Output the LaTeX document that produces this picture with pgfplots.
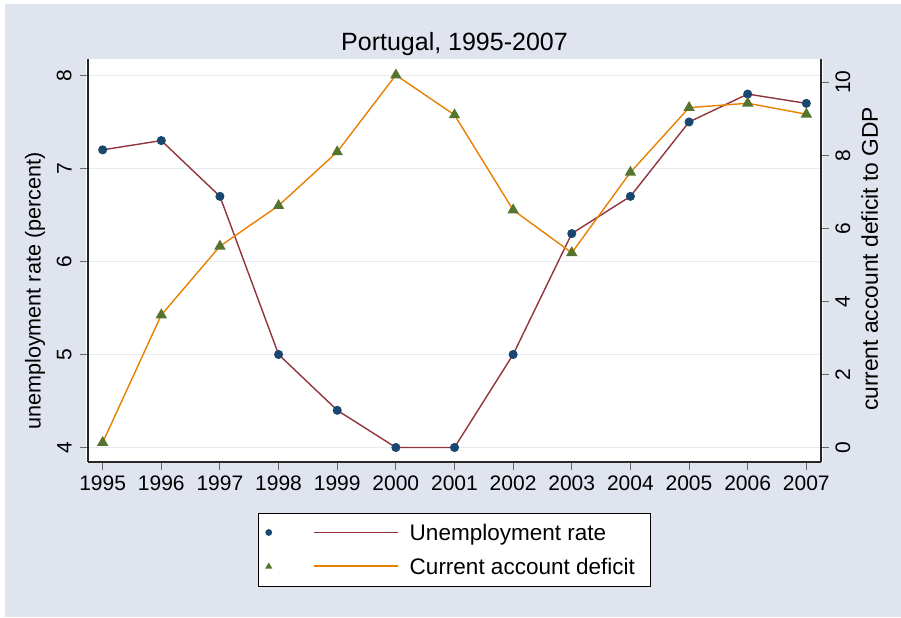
\documentclass[border=0pt]{standalone}
\usepackage{fontspec}
\setmainfont{Liberation Sans}
\usepackage{pgfplots}
\pgfplotsset{compat=1.18}
\definecolor{bgc}{RGB}{223,228,239}
\definecolor{gridc}{RGB}{230,234,243}
\definecolor{navyc}{RGB}{26,71,111}
\definecolor{maroonc}{RGB}{144,53,59}
\definecolor{greenc}{RGB}{85,117,47}
\definecolor{orangec}{RGB}{232,128,0}

\pgfplotstableread{
year unemp
1995 7.2
1996 7.3
1997 6.7
1998 5.0
1999 4.4
2000 4.0
2001 4.0
2002 5.0
2003 6.3
2004 6.7
2005 7.5
2006 7.8
2007 7.7
}\unemptable

\pgfplotstableread{
year ca
1995 0.14
1996 3.63
1997 5.51
1998 6.62
1999 8.09
2000 10.19
2001 9.10
2002 6.50
2003 5.33
2004 7.53
2005 9.30
2006 9.42
2007 9.12
}\catable

\pgfplotsset{
  common/.style={
    at={(44pt,77.5pt)}, anchor=south west,
    width=366.5pt, height=201.5pt, scale only axis,
    xmin=1994.75, xmax=2007.25,
    tick align=outside,
    major tick length=4pt,
    tick style={black!60, line width=0.5pt},
    axis line style={black!85, line width=0.6pt},
    /pgf/number format/assume math mode=true,
    tick label style={font=\fontsize{10.5}{12}\selectfont},
    label style={font=\fontsize{10.8}{13}\selectfont},
  }
}

\begin{document}
\begin{tikzpicture}
\path[use as bounding box] (0,0) rectangle (450.5pt,308.5pt);
\fill[white] (0,0) rectangle (450.5pt,308.5pt);
\fill[bgc] (2.5pt,0) rectangle (450.5pt,306.5pt);
\fill[white] (43pt,77pt) rectangle (411.5pt,279pt);

\begin{axis}[common,
  ymin=3.844, ymax=8.177,
  axis x line*=bottom, axis y line*=left,
  xtick={1995,...,2007},
  xticklabel style={/pgf/number format/1000 sep=, inner sep=0pt, anchor=north},
  xticklabel shift=2.5pt,
  ytick={4,5,6,7,8},
  yticklabel style={rotate=90, anchor=south, inner sep=0pt},
  yticklabel shift=4pt,
  ymajorgrids,
  grid style={gridc, line width=0.7pt},
  ylabel={unemployment rate (percent)},
  ylabel style={at={(axis description cs:-0.0645,0.424)}, anchor=base},
  title={Portugal, 1995-2007},
  title style={at={(axis description cs:0.5,1)}, anchor=base, yshift=-2pt, font=\fontsize{12.5}{14}\selectfont},
]
\addplot[maroonc, line width=0.7pt, mark=*, mark size=1.9pt,
  mark options={fill=navyc, draw=navyc}] table[x=year, y=unemp] {\unemptable};
\end{axis}

\begin{axis}[common,
  ymin=-0.391, ymax=10.63,
  axis x line=none, axis y line*=right,
  ytick={0,2,4,6,8,10},
  yticklabel style={rotate=90, anchor=north, inner sep=0pt},
  yticklabel shift=3pt,
  ylabel={current account deficit to GDP},
  ylabel style={at={(axis description cs:1.0775,0.504)}, anchor=base, font=\fontsize{11.4}{13}\selectfont},
  legend style={at={(0.5,0)}, anchor=north, yshift=-25.5pt,
    draw=black, line width=0.5pt, fill=white,
    inner xsep=3.5pt, inner ysep=4.5pt, row sep=6.25pt,
    font=\fontsize{11.25}{13}\selectfont,
    nodes={inner sep=0pt, anchor=base west}},
  legend cell align=left,
]
\addlegendimage{legend image code/.code={
  \path[draw=none, fill=none] (-1pt,-1pt) rectangle (70.5pt,9pt);
  \path[fill=navyc, draw=none] (0pt,4pt) circle (1.7pt);
  \path[draw=maroonc, line width=0.8pt, fill=none] (22.5pt,4pt) -- (64.5pt,4pt);}}
\addlegendentry{Unemployment rate}
\addlegendimage{legend image code/.code={
  \path[draw=none, fill=none] (-1pt,-1pt) rectangle (70.5pt,9pt);
  \path[fill=greenc, draw=none] (-1.8pt,2.7pt) -- (1.8pt,2.7pt) -- (0pt,5.8pt) -- cycle;
  \path[draw=orangec, line width=0.8pt, fill=none] (22.5pt,4pt) -- (64.5pt,4pt);}}
\addlegendentry{Current account deficit\hspace*{4.5pt}}
\addplot[orangec, line width=0.7pt, mark=triangle*, mark size=2.6pt,
  mark options={fill=greenc, draw=greenc}, forget plot] table[x=year, y=ca] {\catable};
\end{axis}
\end{tikzpicture}
\end{document}
